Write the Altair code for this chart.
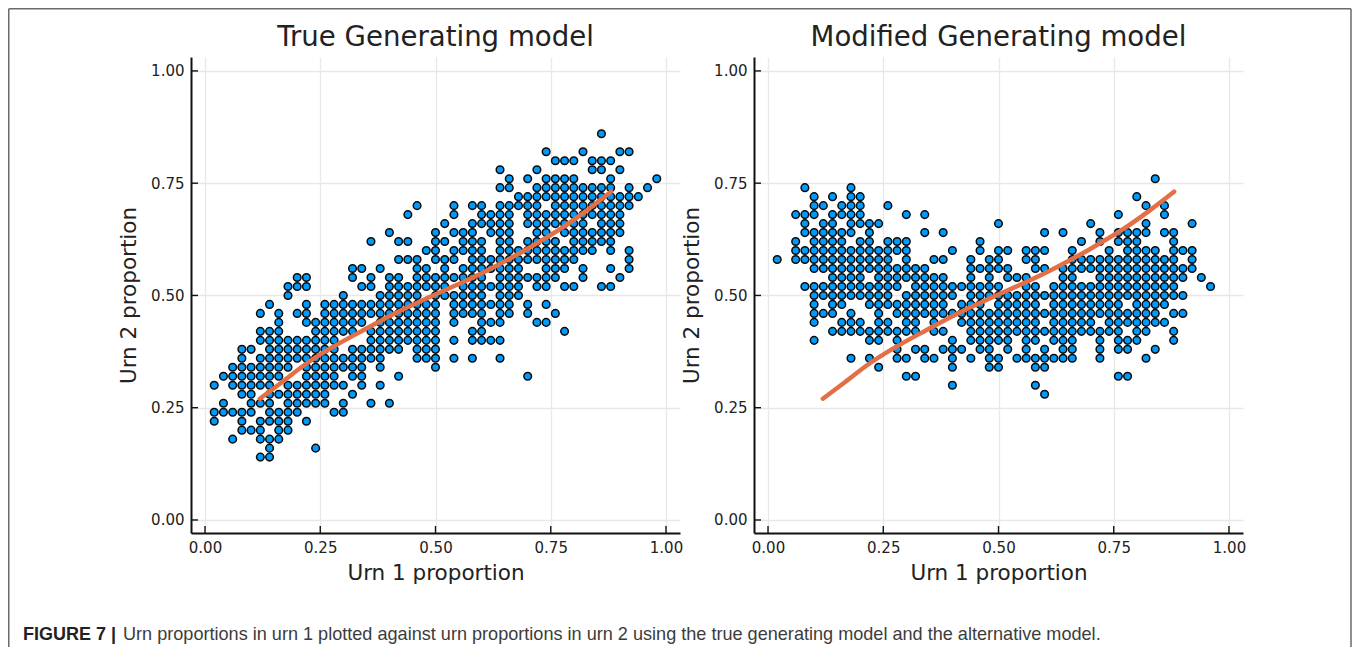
import altair as alt
import pandas as pd

# Points sit on a 0.02 lattice: {urn-2 level: [urn-1 levels]}
LATTICE = 0.02
true_rows = {
    43: [43],
    41: [37, 41, 45, 46],
    40: [38, 39, 40, 42, 43, 44],
    39: [32, 36, 42, 43, 45],
    38: [33, 35, 37, 38, 39, 40, 44, 49],
    37: [32, 33, 36, 37, 38, 39, 40, 41, 42, 43, 44, 46, 48],
    36: [34, 35, 36, 37, 38, 39, 40, 41, 42, 43, 44, 45, 46, 47],
    35: [23, 27, 29, 30, 32, 33, 34, 35, 36, 38, 39, 40, 41, 42, 43, 44, 45, 46],
    34: [22, 27, 30, 31, 32, 33, 35, 36, 37, 38, 39, 40, 41, 42, 43, 44, 45],
    33: [26, 29, 30, 31, 32, 33, 35, 36, 37, 38, 39, 40, 41, 43, 44, 45],
    32: [20, 25, 27, 28, 29, 31, 32, 33, 36, 37, 39, 40, 41, 42, 43, 44, 45],
    31: [18, 21, 22, 25, 26, 28, 29, 30, 32, 33, 35, 36, 37, 38, 40, 41, 42, 43, 44],
    30: [24, 25, 27, 28, 29, 30, 32, 33, 34, 35, 36, 37, 38, 39, 40, 41, 42, 44, 46],
    29: [21, 22, 23, 25, 26, 27, 29, 30, 31, 32, 33, 34, 35, 36, 37, 38, 39, 40, 46],
    28: [16, 17, 19, 23, 24, 26, 28, 29, 30, 31, 32, 33, 34, 37, 38, 39, 41, 44, 46],
    27: [10, 11, 16, 18, 20, 21, 23, 24, 25, 26, 27, 28, 29, 30, 32, 33, 34, 35, 36, 37, 38, 41, 45],
    26: [9, 10, 11, 17, 18, 20, 21, 22, 23, 24, 25, 26, 28, 29, 30, 31, 32, 33, 34, 36, 37, 39, 40, 43, 44],
    25: [9, 15, 19, 20, 21, 22, 23, 25, 26, 27, 28, 29, 30, 32, 33, 34],
    24: [7, 11, 13, 14, 15, 16, 17, 18, 19, 20, 21, 22, 23, 24, 25, 27, 28, 29, 30, 31, 32, 33, 35, 37],
    23: [6, 8, 10, 11, 13, 14, 15, 16, 17, 18, 19, 20, 21, 22, 23, 24, 25, 27, 28, 29, 30, 32, 33, 35, 38],
    22: [8, 11, 12, 13, 14, 15, 16, 17, 19, 20, 21, 22, 23, 24, 25, 27, 30, 31, 32, 36, 37],
    21: [6, 7, 8, 12, 13, 14, 15, 16, 18, 19, 20, 21, 22, 23, 24, 25, 29, 30, 39],
    20: [6, 7, 8, 9, 10, 11, 12, 13, 14, 18, 19, 20, 21, 22, 23, 24, 25, 27, 29, 30, 31, 32],
    19: [4, 5, 7, 8, 9, 10, 11, 12, 13, 14, 16, 17, 18, 19, 20, 21, 23, 24, 25],
    18: [4, 6, 7, 8, 9, 10, 11, 12, 13, 14, 15, 16, 17, 18, 19, 23, 24, 25, 27, 29, 32],
    17: [3, 4, 5, 6, 7, 8, 9, 11, 12, 13, 14, 15, 16, 17, 19, 25],
    16: [2, 3, 4, 5, 6, 7, 8, 11, 12, 13, 14, 16, 17, 21, 35],
    15: [1, 3, 4, 5, 6, 7, 9, 10, 11, 12, 13, 14, 15, 17, 19],
    14: [4, 5, 7, 8, 9, 10, 11, 12, 13, 16],
    13: [2, 5, 6, 7, 9, 10, 11, 12, 13, 15, 18, 20],
    12: [1, 2, 3, 4, 5, 7, 8, 9, 10, 14, 15],
    11: [1, 4, 6, 7, 8, 9, 11],
    10: [4, 5, 6, 8, 9],
    9: [3, 6, 7, 8],
    8: [7, 12],
    7: [6, 7],
}
modified_rows = {
    38: [42],
    37: [4, 9],
    36: [5, 7, 9, 10, 40],
    35: [5, 6, 8, 9, 10, 13, 41, 43],
    34: [3, 4, 5, 7, 8, 9, 10, 15, 17, 38, 43],
    33: [4, 6, 7, 9, 10, 11, 12, 25, 35, 41, 46],
    32: [4, 5, 6, 7, 8, 9, 11, 17, 19, 30, 32, 36, 38, 39, 40, 41, 43, 44],
    31: [3, 5, 6, 7, 8, 10, 11, 13, 14, 15, 23, 34, 36, 38, 39, 40, 44],
    30: [3, 4, 5, 6, 7, 8, 9, 10, 11, 12, 13, 14, 15, 20, 23, 25, 26, 28, 29, 30, 33, 37, 39, 40, 41, 42, 44, 45, 46],
    29: [1, 3, 4, 5, 6, 7, 8, 9, 10, 11, 12, 13, 15, 18, 19, 22, 24, 25, 28, 29, 33, 34, 35, 36, 37, 38, 39, 40, 41, 42, 43, 44, 46],
    28: [5, 6, 7, 8, 9, 10, 11, 12, 13, 14, 15, 16, 17, 22, 23, 24, 25, 26, 29, 30, 32, 33, 34, 35, 36, 37, 38, 39, 40, 41, 42, 43, 44, 45, 46],
    27: [7, 8, 9, 10, 12, 13, 14, 15, 16, 17, 18, 19, 22, 24, 26, 27, 28, 32, 33, 36, 37, 38, 39, 40, 41, 42, 43, 44, 45, 47],
    26: [4, 5, 6, 7, 8, 9, 10, 11, 12, 13, 14, 16, 17, 18, 19, 20, 21, 22, 23, 24, 25, 28, 29, 31, 32, 33, 34, 35, 36, 37, 38, 39, 40, 41, 42, 43, 44, 48],
    25: [5, 6, 7, 8, 9, 10, 11, 12, 13, 15, 16, 17, 18, 19, 20, 22, 23, 24, 25, 26, 27, 28, 29, 30, 31, 32, 33, 34, 35, 36, 37, 38, 39, 40, 41, 42, 43, 44, 45],
    24: [5, 7, 8, 11, 12, 13, 14, 15, 16, 17, 18, 19, 21, 22, 23, 25, 26, 27, 28, 29, 31, 32, 33, 34, 35, 36, 37, 38, 40, 41, 42, 43],
    23: [5, 6, 7, 9, 12, 14, 15, 16, 17, 18, 19, 20, 21, 22, 23, 24, 25, 26, 27, 28, 29, 30, 31, 32, 33, 34, 35, 36, 37, 38, 39, 40, 41, 42, 44, 45],
    22: [5, 8, 9, 10, 12, 13, 15, 16, 18, 21, 22, 23, 24, 25, 26, 27, 28, 29, 31, 32, 33, 34, 35, 37, 38, 39, 40, 41, 42, 43],
    21: [7, 8, 9, 10, 11, 12, 13, 14, 15, 16, 18, 19, 22, 23, 24, 25, 26, 27, 28, 29, 30, 31, 32, 33, 34, 35, 36, 37, 38, 40, 41, 44],
    20: [5, 11, 12, 14, 20, 22, 23, 24, 25, 26, 28, 29, 31, 32, 33, 36, 38, 39, 40, 44],
    19: [14, 16, 17, 19, 20, 21, 23, 24, 26, 28, 30, 32, 33, 36, 38, 39, 42],
    18: [9, 11, 14, 15, 17, 18, 20, 22, 24, 25, 27, 28, 29, 30, 31, 32, 33, 36, 41],
    17: [12, 20, 24, 25, 29, 30],
    16: [15, 16, 38, 39],
    15: [20, 29],
    14: [30],
}

# Fitted curve, shared by both panels
curve_x = [0.119, 0.163, 0.221, 0.272, 0.344, 0.416, 0.482, 0.554, 0.626, 0.698, 0.771, 0.829, 0.881]
curve_y = [0.270, 0.304, 0.349, 0.382, 0.423, 0.462, 0.494, 0.527, 0.563, 0.603, 0.648, 0.690, 0.731]

tick_values = [0, 0.25, 0.5, 0.75, 1.0]
titles = ["True Generating model", "Modified Generating model"]
x_label = "Urn 1 proportion"
y_label = "Urn 2 proportion"
caption_bold = "FIGURE 7 |"
caption_text = ("Urn proportions in urn 1 plotted against urn proportions in urn 2 "
                "using the true generating model and the alternative model.")

W, H = 489, 476
X_DOM = [-0.0304, 1.0304]
Y_DOM = [-0.029, 1.031]
BLUE, ORANGE = "#009AFA", "#E36F47"
FONT = "DejaVu Sans"


def points_frame(rows):
    return pd.DataFrame(
        [{"x": u * LATTICE, "y": w * LATTICE} for w, us in rows.items() for u in us]
    )


curve_df = pd.DataFrame({"x": curve_x, "y": curve_y})
tick_df = pd.DataFrame({"t": tick_values})
one_df = pd.DataFrame({"a": [0]})
x_scale = alt.Scale(domain=X_DOM, nice=False, zero=False)
y_scale = alt.Scale(domain=Y_DOM, nice=False, zero=False)


def axis(title, title_pad):
    return alt.Axis(
        title=title, values=tick_values, format=".2f", grid=True, gridColor="#e8e8e8",
        gridWidth=1.3, domain=True, domainColor="#111111", domainWidth=2, ticks=False,
        labelFont=FONT, labelFontSize=15, labelColor="#222222", labelPadding=7,
        labelFlush=False, titleFont=FONT, titleFontSize=21.5, titleFontWeight="normal",
        titleColor="#222222", titlePadding=title_pad,
    )


def panel(rows, title, extras=()):
    xax = axis(x_label, 7)
    yax = axis(y_label, 10)
    pts = alt.Chart(points_frame(rows)).mark_circle(
        size=58, color=BLUE, stroke="#0a0a0a", strokeWidth=1.5, opacity=1
    ).encode(
        x=alt.X("x:Q", scale=x_scale, axis=xax),
        y=alt.Y("y:Q", scale=y_scale, axis=yax),
    )
    xt = alt.Chart(tick_df).mark_rule(color="#111111", strokeWidth=1.4).encode(
        x=alt.X("t:Q", scale=x_scale, axis=xax), y=alt.value(H), y2=alt.value(H - 7))
    yt = alt.Chart(tick_df).mark_rule(color="#111111", strokeWidth=1.4).encode(
        y=alt.Y("t:Q", scale=y_scale, axis=yax), x=alt.value(0), x2=alt.value(7))
    line = alt.Chart(curve_df).mark_line(
        color=ORANGE, strokeWidth=4.5, strokeCap="round", interpolate="monotone"
    ).encode(x=alt.X("x:Q", scale=x_scale, axis=xax), y=alt.Y("y:Q", scale=y_scale, axis=yax))
    head = alt.Chart(pd.DataFrame({"s": [title]})).mark_text(
        align="center", baseline="middle", font=FONT, fontSize=27.6, color="#222222"
    ).encode(x=alt.value(W / 2), y=alt.value(-19.5), text="s:N")
    return alt.layer(pts, xt, yt, line, head, *extras).properties(width=W, height=H)


# Figure frame and caption, placed relative to the left panel's plot area
OX, OY = 183, 49
FRAME_R, FRAME_B = 1343, 639
frame_color = "#6b6b6b"
frame = [
    alt.Chart(one_df).mark_rule(color=frame_color, strokeWidth=1.5).encode(
        x=alt.value(-OX + 0.75), y=alt.value(-OY + 0.75), y2=alt.value(FRAME_B - OY)),
    alt.Chart(one_df).mark_rule(color=frame_color, strokeWidth=1.5).encode(
        x=alt.value(FRAME_R - OX), y=alt.value(-OY + 0.75), y2=alt.value(FRAME_B - OY)),
    alt.Chart(one_df).mark_rule(color=frame_color, strokeWidth=1.5).encode(
        x=alt.value(-OX + 0.75), x2=alt.value(FRAME_R - OX), y=alt.value(-OY + 0.75)),
    alt.Chart(pd.DataFrame({"s": [caption_bold]})).mark_text(
        align="left", baseline="alphabetic", font="Liberation Sans", fontSize=18,
        fontWeight="bold", color="#222222"
    ).encode(x=alt.value(15 - OX), y=alt.value(632 - OY), text="s:N"),
    alt.Chart(pd.DataFrame({"s": [caption_text]})).mark_text(
        align="left", baseline="alphabetic", font="Liberation Sans", fontSize=18.1,
        color="#3c3c3c"
    ).encode(x=alt.value(115 - OX), y=alt.value(632 - OY), text="s:N"),
]

chart = alt.hconcat(
    panel(true_rows, titles[0], frame),
    panel(modified_rows, titles[1]),
    spacing=74, bounds="flush",
).resolve_scale(x="independent", y="independent").configure_view(stroke=None).properties(
    padding=0, background="white"
)

chart.save("out.html", embed_options={"renderer": "svg", "actions": False})
